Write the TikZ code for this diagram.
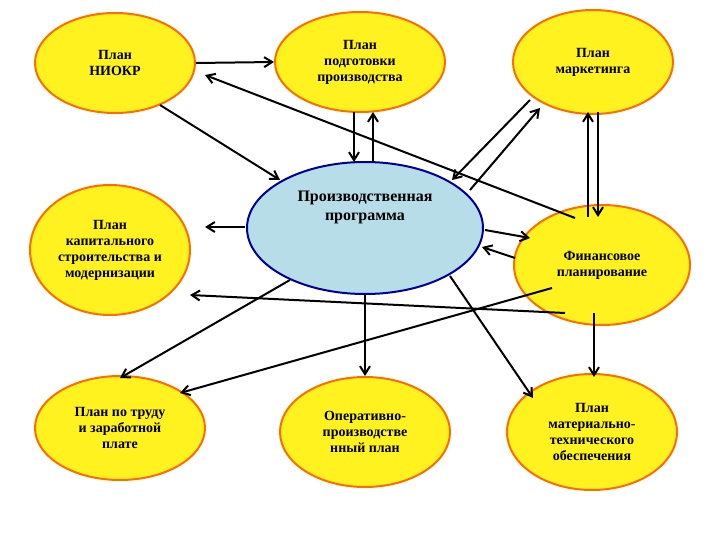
\documentclass[tikz,border=0pt]{standalone}
\usepackage{fontspec}
\setmainfont{Liberation Serif}
\usetikzlibrary{arrows.meta,shapes.geometric}
\definecolor{progfill}{HTML}{B7DDE8}
\definecolor{yelfill}{HTML}{FFF21E}
\begin{document}
\begin{tikzpicture}[x=1pt,y=-1pt,
  yel/.style={ellipse,draw=orange!85!red,line width=2pt,fill=yelfill,align=center,font=\fontsize{14}{16}\selectfont\bfseries,inner sep=0pt},
  ar/.style={-{Straight Barb[length=8pt,width=10pt,line width=2pt]},line width=2pt}]
\useasboundingbox (0,0) rectangle (720,540);
\node[yel,minimum width=160pt,minimum height=100pt] (niokr) at (115,63) {План\\НИОКР};
\node[yel,minimum width=170pt,minimum height=100pt] (podg) at (360,62) {План\\подготовки\\производства};
\node[yel,minimum width=160pt,minimum height=104pt] (mark) at (593,62) {План\\маркетинга};
\node[ellipse,draw=blue!60!black,line width=2pt,fill=progfill,minimum width=236pt,minimum height=132pt,align=center,font=\fontsize{16}{19}\selectfont\bfseries] (prog) at (365,228) {Производственная\\программа\\[26pt]};
\node[yel,minimum width=160pt,minimum height=130pt] (kap) at (110,250) {План\\капитального\\строительства и\\модернизации};
\node[yel,minimum width=176pt,minimum height=120pt] (fin) at (602,265) {Финансовое\\планирование};
\node[yel,minimum width=170pt,minimum height=104pt] (trud) at (120,428) {План по труду\\и заработной\\плате};
\node[yel,minimum width=170pt,minimum height=110pt] (oper) at (365,432) {Оперативно-\\производстве\\нный план};
\node[yel,minimum width=170pt,minimum height=116pt] (mto) at (592,432) {План\\материально-\\технического\\обеспечения};
\draw[ar] (niokr.east) -- (podg.west);
\draw[ar] (575,218) -- (205,75);
\draw[ar] (160,105) -- (280,180);
\draw[ar] (354,112) -- (354,162);
\draw[ar] (373,162) -- (373,112);
\draw[ar] (530,100) -- (452,180);
\draw[ar] (470,190) -- (540,108);
\draw[ar] (588,217) -- (588,112);
\draw[ar] (598,112) -- (598,217);
\draw[ar] (245,227) -- (205,227);
\draw[ar] (485,230) -- (530,238);
\draw[ar] (515,258) -- (482,247);
\draw[ar] (565,313) -- (190,295);
\draw[ar] (290,280) -- (120,378);
\draw[ar] (552,288) -- (180,393);
\draw[ar] (prog.south) -- (oper.north);
\draw[ar] (450,276) -- (533,398);
\draw[ar] (594,313) -- (594,377);
\end{tikzpicture}
\end{document}
